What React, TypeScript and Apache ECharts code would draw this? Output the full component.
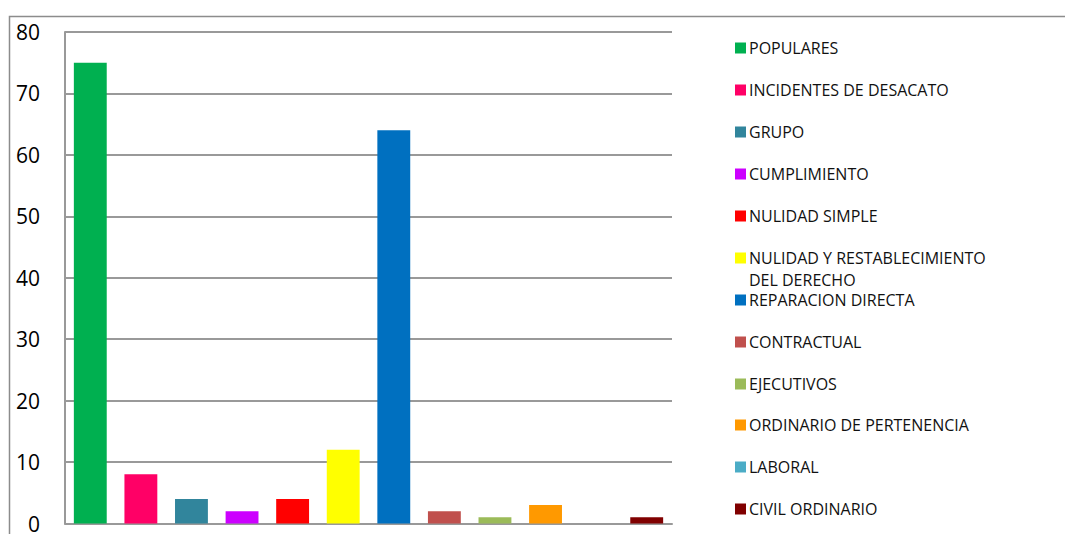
import React, { useEffect, useRef } from "react";
import * as echarts from "echarts";

const categories = [
  "POPULARES",
  "INCIDENTES DE DESACATO",
  "GRUPO",
  "CUMPLIMIENTO",
  "NULIDAD SIMPLE",
  "NULIDAD Y RESTABLECIMIENTO DEL DERECHO",
  "REPARACION DIRECTA",
  "CONTRACTUAL",
  "EJECUTIVOS",
  "ORDINARIO DE PERTENENCIA",
  "LABORAL",
  "CIVIL ORDINARIO",
];

const values = [75, 8, 4, 2, 4, 12, 64, 2, 1, 3, 0, 1];

const colors = [
  "#00b050",
  "#ff0066",
  "#31859c",
  "#cc00ff",
  "#ff0000",
  "#ffff00",
  "#0070c0",
  "#c0504d",
  "#9bbb59",
  "#ff9900",
  "#4bacc6",
  "#800000",
];

const legendLabels = [
  "POPULARES",
  "INCIDENTES DE DESACATO",
  "GRUPO",
  "CUMPLIMIENTO",
  "NULIDAD SIMPLE",
  "\nNULIDAD Y RESTABLECIMIENTO\nDEL DERECHO",
  "REPARACION DIRECTA",
  "CONTRACTUAL",
  "EJECUTIVOS",
  "ORDINARIO DE PERTENENCIA",
  "LABORAL",
  "CIVIL ORDINARIO",
];

const yTicks = { min: 0, max: 80, interval: 10 };

export default function App() {
  const ref = useRef<HTMLDivElement>(null);

  useEffect(() => {
    document.body.style.margin = "0";
    if (!ref.current) return;
    const chart = echarts.init(ref.current, undefined, { renderer: "svg" });
    const font = "'Open Sans', 'Noto Sans', sans-serif";
    const lineH = 22;
    const legendCenters = [48, 90, 132, 174, 216, 258, 300, 342, 384, 425, 467, 509];

    const legends = categories.map((name, i) => {
      const lines = legendLabels[i].split("\n").length;
      return {
        data: [name],
        orient: "vertical",
        left: 735,
        top: legendCenters[i] - (lines * lineH) / 2,
        padding: 0,
        itemWidth: 11,
        itemHeight: 11,
        itemGap: 0,
        icon: "rect",
        selectedMode: false,
        formatter: () => legendLabels[i],
        textStyle: {
          fontFamily: font,
          fontSize: 16,
          color: "#111",
          lineHeight: lineH,
          padding: [0, 0, 0, -2],
        },
      };
    });

    const series = categories.map((name, i) => ({
      name,
      type: "bar",
      stack: "all",
      barWidth: "65%",
      itemStyle: { color: colors[i] },
      data: values.map((v, j) => (j === i ? v : "-")),
    }));

    chart.setOption({
      animation: false,
      backgroundColor: "#fff",
      grid: { left: 65, right: 393, top: 32, bottom: 10, containLabel: false },
      legend: legends,
      xAxis: {
        type: "category",
        data: categories,
        axisLine: { show: true, lineStyle: { color: "#999", width: 2 } },
        axisTick: { show: false },
        axisLabel: { show: false },
      },
      yAxis: {
        type: "value",
        min: yTicks.min,
        max: yTicks.max,
        interval: yTicks.interval,
        axisLine: { show: true, lineStyle: { color: "#999", width: 2 } },
        axisTick: { show: false },
        splitLine: { show: true, lineStyle: { color: "#999", width: 2 } },
        axisLabel: {
          fontFamily: font,
          fontSize: 21,
          color: "#000",
          margin: 25,
        },
      },
      graphic: [
        {
          type: "rect",
          shape: { x: 9.5, y: 16.5, width: 1200, height: 700 },
          style: { fill: "none", stroke: "#8c8c8c", lineWidth: 1.5 },
          silent: true,
          z: -1,
        },
      ],
      series,
    });

    return () => chart.dispose();
  }, []);

  return <div ref={ref} style={{ width: 1065, height: 534 }} />;
}
